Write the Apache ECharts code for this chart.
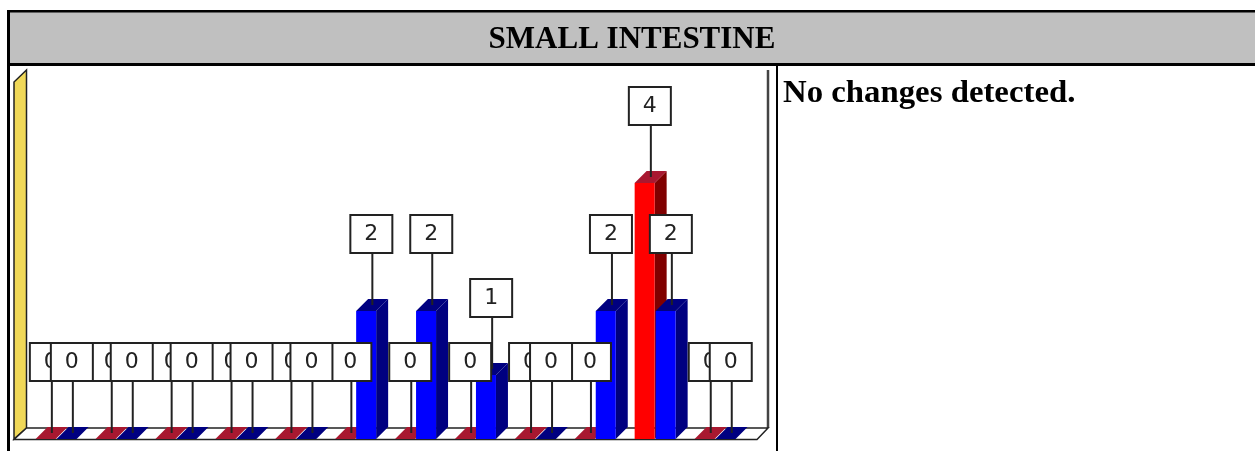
<!DOCTYPE html>
<html><head><meta charset="utf-8">
<style>html,body{margin:0;padding:0;background:#fff}#c{width:1255px;height:451px}</style>
<script src="https://cdn.jsdelivr.net/npm/echarts@6/dist/echarts.min.js"></script>
</head><body><div id="c"></div>
<script>
const categories = ['1','2','3','4','5','6','7','8','9','10','11','12'];
const redValues  = [0,0,0,0,0,0,0,0,0,0,4,0];
const blueValues = [0,0,0,0,0,2,2,1,0,2,2,0];
const titleText = 'SMALL INTESTINE';
const noteText = 'No changes detected.';

const BAR_W = 20, DEPTH = 12;
const SERIF = '"Liberation Serif","DejaVu Serif",serif';

function barItem(side, colors) {
  return function (params, api) {
    const p = api.coord([api.value(0), api.value(1)]);
    const b = api.coord([api.value(0), 0]);
    const x0 = side < 0 ? p[0] - BAR_W - 0.5 : p[0] + 0.5;
    const x1 = x0 + BAR_W, d = DEPTH;
    const children = [];
    if (api.value(1) > 0) {
      children.push({type:'polygon',shape:{points:[[x1,p[1]],[x1+d,p[1]-d],[x1+d,b[1]-d],[x1,b[1]]]},style:{fill:colors.side}});
      children.push({type:'rect',shape:{x:x0,y:p[1],width:BAR_W,height:b[1]-p[1]},style:{fill:colors.front}});
    }
    children.push({type:'polygon',shape:{points:[[x0,p[1]],[x1,p[1]],[x1+d,p[1]-d],[x0+d,p[1]-d]]},style:{fill:colors.top}});
    return {type:'group',children};
  };
}
function labelItem(side) {
  return function (params, api) {
    const p = api.coord([api.value(0), api.value(1)]);
    const x0 = side < 0 ? p[0] - BAR_W - 0.5 : p[0] + 0.5;
    const sx = x0 + 16.2;
    const topY = p[1] - 6, boxH = 38, boxW = 42;
    const boxB = topY - 52;
    return {type:'group',children:[
      {type:'line',shape:{x1:sx,y1:boxB,x2:sx,y2:topY},style:{stroke:'#222',lineWidth:2}},
      {type:'rect',shape:{x:sx-boxW/2-1,y:boxB-boxH,width:boxW,height:boxH},style:{fill:'#fff',stroke:'#222',lineWidth:2}},
      {type:'text',style:{x:sx-1,y:boxB-boxH/2,text:String(api.value(1)),fill:'#222',font:'22px "DejaVu Sans",sans-serif',align:'center',verticalAlign:'middle'}}
    ]};
  };
}
const toData = arr => arr.map((v,i)=>[i,v]);

const chart = echarts.init(document.getElementById('c'), null, {renderer:'canvas'});
chart.setOption({
  animation:false,
  backgroundColor:'#fff',
  grid:{left:26.2,width:718.8,top:183,height:256,containLabel:false},
  xAxis:{type:'category',data:categories,show:false},
  yAxis:{type:'value',min:0,max:4,show:false},
  graphic:{elements:[
    // table frame
    {type:'rect',z:0,shape:{x:8,y:12,width:1247,height:52},style:{fill:'#c0c0c0'}},
    {type:'rect',z:0,shape:{x:7,y:10,width:1248,height:2.5},style:{fill:'#000'}},
    {type:'rect',z:0,shape:{x:7,y:63,width:1248,height:3},style:{fill:'#000'}},
    {type:'rect',z:0,shape:{x:7,y:10,width:3,height:441},style:{fill:'#000'}},
    {type:'rect',z:0,shape:{x:776,y:64,width:2,height:387},style:{fill:'#000'}},
    {type:'text',z:10,x:632,y:40,scaleX:1,style:{x:0,y:0,text:titleText,fill:'#000',font:'bold 31px '+SERIF,align:'center',verticalAlign:'middle'}},
    {type:'text',z:10,x:783,y:94,scaleX:1.058,style:{x:0,y:0,text:noteText,fill:'#000',font:'bold 31px '+SERIF,align:'left',verticalAlign:'middle'}},
    // chart walls and floor
    {type:'polygon',z:1,shape:{points:[[14,439],[14,82],[26.5,70],[26.5,428]]},style:{fill:'#f0d858',stroke:'#222',lineWidth:1.5}},
    {type:'line',z:1,shape:{x1:768,y1:70,x2:768,y2:428},style:{stroke:'#444',lineWidth:2.5}},
    {type:'polygon',z:1,shape:{points:[[14,439.5],[26.5,428],[768,428],[757,439.5]]},style:{fill:'#fff',stroke:'#222',lineWidth:1.5}}
  ]},
  series:[
    {type:'custom',z:2,data:toData(redValues),encode:{x:0,y:1},renderItem:barItem(-1,{front:'#ff0000',side:'#800000',top:'#a81830'}),clip:false},
    {type:'custom',z:3,data:toData(blueValues),encode:{x:0,y:1},renderItem:barItem(1,{front:'#0000ff',side:'#000080',top:'#000080'}),clip:false},
    {type:'custom',z:4,data:toData(redValues),encode:{x:0,y:1},renderItem:labelItem(-1),clip:false},
    {type:'custom',z:5,data:toData(blueValues),encode:{x:0,y:1},renderItem:labelItem(1),clip:false}
  ]
});
</script></body></html>
